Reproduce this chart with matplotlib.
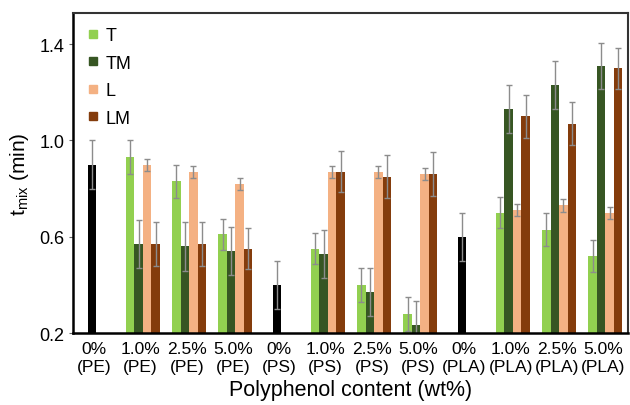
import numpy as np
import matplotlib
matplotlib.use("Agg")
import matplotlib.pyplot as plt
from matplotlib.lines import Line2D

plt.rcParams["font.family"] = ["Liberation Sans", "DejaVu Sans"]

# Categories (x axis)
categories = ["0%\n(PE)", "1.0%\n(PE)", "2.5%\n(PE)", "5.0%\n(PE)",
              "0%\n(PS)", "1.0%\n(PS)", "2.5%\n(PS)", "5.0%\n(PS)",
              "0%\n(PLA)", "1.0%\n(PLA)", "2.5%\n(PLA)", "5.0%\n(PLA)"]

# neat polymer (0%) bars: category index, value, error
neat_idx = [0, 4, 8]
neat_val = [0.90, 0.40, 0.60]
neat_err = [0.10, 0.10, 0.10]

# filled samples: category indices
filled_idx = [1, 2, 3, 5, 6, 7, 9, 10, 11]
series = ["T", "TM", "L", "LM"]
T_val = [0.93, 0.83, 0.61, 0.55, 0.40, 0.28, 0.70, 0.63, 0.52]
T_err = [0.07, 0.07, 0.065, 0.065, 0.07, 0.07, 0.065, 0.07, 0.065]
TM_val = [0.57, 0.56, 0.54, 0.53, 0.37, 0.235, 1.13, 1.23, 1.31]
TM_err = [0.10, 0.10, 0.10, 0.10, 0.10, 0.10, 0.10, 0.10, 0.095]
L_val = [0.90, 0.87, 0.82, 0.87, 0.87, 0.86, 0.71, 0.73, 0.70]
L_err = [0.025, 0.025, 0.025, 0.025, 0.025, 0.025, 0.025, 0.025, 0.025]
LM_val = [0.57, 0.57, 0.55, 0.87, 0.85, 0.86, 1.10, 1.07, 1.30]
LM_err = [0.09, 0.09, 0.085, 0.085, 0.09, 0.09, 0.09, 0.09, 0.085]

colors = {"T": "#92D050", "TM": "#375623", "L": "#F4B183", "LM": "#843C0C"}
values = {"T": (T_val, T_err), "TM": (TM_val, TM_err),
          "L": (L_val, L_err), "LM": (LM_val, LM_err)}

fig = plt.figure(figsize=(6.3, 4.06), dpi=100)
ax = fig.add_axes([0.116, 0.177, 0.881, 0.789])

w = 0.184
base = 0.2
ekw = dict(ecolor="#8c8c8c", elinewidth=1.0, capsize=2.2, capthick=1.0)

x_neat = np.array(neat_idx) - 0.05
ax.bar(x_neat, np.array(neat_val) - base, w, bottom=base, color="black",
       yerr=neat_err, error_kw=ekw, zorder=2)

x_filled = np.array(filled_idx) + 0.05
for k, s in enumerate(series):
    v, e = values[s]
    xs = x_filled + (k - 1.5) * w
    ax.bar(xs, np.array(v) - base, w, bottom=base, color=colors[s],
           yerr=e, error_kw=ekw, zorder=2)

ax.set_xlim(-0.458, 11.54)
ax.set_ylim(0.2, 1.53)
ax.set_yticks([0.2, 0.6, 1.0, 1.4])
ax.set_yticklabels(["0.2", "0.6", "1.0", "1.4"], fontsize=13)
ax.set_xticks(range(len(categories)))
ax.set_xticklabels(categories, fontsize=12.5, linespacing=1.2)
ax.tick_params(axis="x", length=0, pad=6)
ax.tick_params(axis="y", length=3, width=0.8, color="#666666", pad=3)

for side in ["top", "right"]:
    ax.spines[side].set_color("#333333")
    ax.spines[side].set_linewidth(1.5)
for side in ["left", "bottom"]:
    ax.spines[side].set_color("black")
    ax.spines[side].set_linewidth(1.8)

ax.set_xlabel("Polyphenol content (wt%)", fontsize=15.5, labelpad=4)
ax.set_ylabel("t$_{\\mathregular{mix}}$ (min)", fontsize=15, labelpad=6)

handles = [Line2D([], [], marker="s", linestyle="", color=colors[s],
                  markersize=6) for s in series]
ax.legend(handles, series, loc="upper left", frameon=False, fontsize=13,
          handlelength=0.6, handletextpad=0.4, labelspacing=0.58,
          borderaxespad=0.4, bbox_to_anchor=(0.0, 1.0))

fig.savefig("out.png", dpi=100)
